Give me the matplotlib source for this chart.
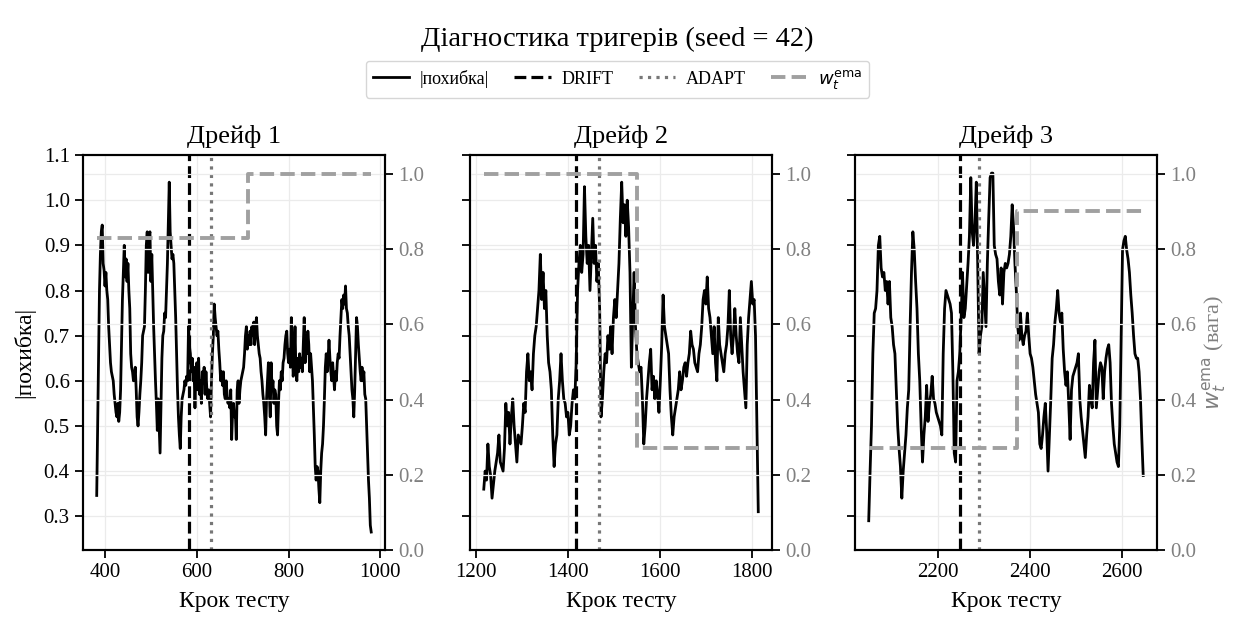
import numpy as np
import matplotlib
matplotlib.use('Agg')
import matplotlib.pyplot as plt
from matplotlib.lines import Line2D

plt.rcParams['font.family'] = ['Liberation Serif', 'DejaVu Serif']
plt.rcParams['mathtext.fontset'] = 'dejavusans'

# ---------------- data ----------------
titles = ['Дрейф 1', 'Дрейф 2', 'Дрейф 3']
starts = [382, 1216, 2049]
step_sizes = [2, 3, 3]

err1 = [0.346, 0.50, 0.66, 0.80, 0.88, 0.93, 0.945, 0.86, 0.845,
        0.81, 0.84, 0.80, 0.78, 0.72, 0.68, 0.64, 0.62, 0.61, 0.60,
        0.57, 0.55, 0.53, 0.52, 0.55, 0.51, 0.53, 0.58, 0.68, 0.78,
        0.84, 0.90, 0.83, 0.87, 0.82, 0.86, 0.80, 0.76, 0.66, 0.63,
        0.62, 0.60, 0.61, 0.63, 0.58, 0.52, 0.50, 0.53, 0.57, 0.60,
        0.64, 0.70, 0.71, 0.72, 0.80, 0.90, 0.93, 0.84, 0.92, 0.93,
        0.82, 0.88, 0.80, 0.72, 0.66, 0.60, 0.55, 0.49, 0.56, 0.50,
        0.44, 0.55, 0.65, 0.70, 0.71, 0.75, 0.74, 0.80, 0.86, 0.95,
        1.04, 0.93, 0.90, 0.87, 0.88, 0.86, 0.80, 0.74, 0.66, 0.58,
        0.52, 0.48, 0.45, 0.52, 0.56, 0.57, 0.58, 0.60, 0.59, 0.61,
        0.60, 0.72, 0.68, 0.66, 0.62, 0.65, 0.60, 0.63, 0.54, 0.62,
        0.64, 0.58, 0.65, 0.57, 0.60, 0.55, 0.62, 0.60, 0.63, 0.57,
        0.62, 0.58, 0.56, 0.58, 0.55, 0.52, 0.60, 0.66, 0.70, 0.77,
        0.74, 0.72, 0.70, 0.71, 0.67, 0.64, 0.60, 0.62, 0.59, 0.62,
        0.57, 0.56, 0.60, 0.57, 0.55, 0.56, 0.54, 0.58, 0.47, 0.53,
        0.55, 0.52, 0.53, 0.47, 0.58, 0.60, 0.55, 0.58, 0.60, 0.61,
        0.62, 0.63, 0.66, 0.70, 0.72, 0.67, 0.70, 0.68, 0.71, 0.68,
        0.72, 0.70, 0.73, 0.68, 0.72, 0.74, 0.70, 0.68, 0.66, 0.65,
        0.62, 0.60, 0.57, 0.55, 0.52, 0.48, 0.56, 0.60, 0.64, 0.57,
        0.52, 0.64, 0.58, 0.60, 0.55, 0.58, 0.57, 0.50, 0.48, 0.55,
        0.60, 0.58, 0.62, 0.60, 0.64, 0.65, 0.68, 0.70, 0.71, 0.66,
        0.64, 0.67, 0.63, 0.74, 0.68, 0.61, 0.64, 0.72, 0.62, 0.60,
        0.65, 0.62, 0.66, 0.63, 0.65, 0.62, 0.68, 0.74, 0.64, 0.70,
        0.66, 0.71, 0.68, 0.62, 0.66, 0.63, 0.60, 0.54, 0.48, 0.41,
        0.38, 0.41, 0.40, 0.36, 0.33, 0.40, 0.44, 0.46, 0.50, 0.56,
        0.63, 0.66, 0.62, 0.65, 0.69, 0.65, 0.62, 0.60, 0.64, 0.61,
        0.58, 0.62, 0.60, 0.64, 0.66, 0.65, 0.70, 0.74, 0.78, 0.76,
        0.79, 0.77, 0.81, 0.76, 0.75, 0.72, 0.70, 0.66, 0.62, 0.58,
        0.56, 0.52, 0.58, 0.66, 0.74, 0.72, 0.68, 0.65, 0.62, 0.60,
        0.63, 0.60, 0.62, 0.57, 0.56, 0.50, 0.44, 0.38, 0.34, 0.28,
        0.265]

err2 = [0.36, 0.40, 0.38, 0.46, 0.41, 0.39, 0.34, 0.37, 0.40, 0.42,
        0.44, 0.48, 0.42, 0.41, 0.40, 0.45, 0.55, 0.50, 0.53, 0.46,
        0.52, 0.56, 0.50, 0.46, 0.42, 0.48, 0.47, 0.46, 0.50, 0.55,
        0.53, 0.62, 0.66, 0.60, 0.62, 0.58, 0.66, 0.70, 0.72, 0.76,
        0.80, 0.88, 0.78, 0.84, 0.76, 0.80, 0.70, 0.64, 0.62, 0.58,
        0.48, 0.41, 0.46, 0.48, 0.56, 0.60, 0.66, 0.60, 0.56, 0.55,
        0.52, 0.53, 0.48, 0.50, 0.55, 0.58, 0.56, 0.64, 0.80, 0.86,
        0.90, 0.84, 0.88, 1.03, 0.92, 0.86, 0.90, 0.80, 0.88, 0.96,
        0.86, 0.90, 0.82, 0.86, 0.76, 0.52, 0.56, 0.62, 0.66, 0.64,
        0.70, 0.67, 0.72, 0.66, 0.74, 0.78, 0.74, 0.80, 0.86, 0.96,
        1.04, 0.95, 0.99, 0.92, 1.00, 0.94, 0.84, 0.63, 0.74, 0.84,
        0.72, 0.66, 0.64, 0.62, 0.63, 0.56, 0.46, 0.50, 0.56, 0.60,
        0.64, 0.67, 0.58, 0.61, 0.56, 0.60, 0.57, 0.53, 0.60, 0.68,
        0.79, 0.72, 0.70, 0.68, 0.66, 0.58, 0.52, 0.48, 0.52, 0.54,
        0.56, 0.58, 0.62, 0.58, 0.60, 0.63, 0.64, 0.61, 0.64, 0.66,
        0.71, 0.68, 0.67, 0.64, 0.63, 0.62, 0.66, 0.68, 0.72, 0.78,
        0.80, 0.77, 0.83, 0.76, 0.74, 0.70, 0.66, 0.72, 0.64, 0.60,
        0.74, 0.68, 0.66, 0.64, 0.62, 0.66, 0.68, 0.72, 0.80, 0.70,
        0.66, 0.70, 0.76, 0.70, 0.66, 0.64, 0.74, 0.68, 0.62, 0.58,
        0.54, 0.68, 0.74, 0.78, 0.82, 0.77, 0.78, 0.70, 0.50, 0.31]

err3 = [0.29, 0.40, 0.50, 0.66, 0.75, 0.76, 0.80, 0.90, 0.92, 0.85,
        0.83, 0.84, 0.80, 0.82, 0.77, 0.82, 0.74, 0.72, 0.68, 0.66,
        0.58, 0.50, 0.45, 0.41, 0.34, 0.40, 0.44, 0.48, 0.54, 0.58,
        0.72, 0.84, 0.93, 0.89, 0.82, 0.76, 0.66, 0.60, 0.50, 0.42,
        0.48, 0.52, 0.59, 0.51, 0.55, 0.57, 0.61, 0.56, 0.55, 0.53,
        0.52, 0.51, 0.50, 0.48, 0.66, 0.76, 0.80, 0.79, 0.78, 0.77,
        0.75, 0.62, 0.44, 0.42, 0.60, 0.62, 0.66, 0.74, 0.84, 0.74,
        0.76, 0.81, 0.86, 0.92, 1.05, 0.93, 0.90, 0.95, 1.04, 0.86,
        0.66, 0.70, 0.72, 0.84, 0.78, 0.72, 0.86, 0.96, 1.05, 1.06,
        1.06, 0.90, 0.88, 0.87, 0.82, 0.79, 0.85, 0.77, 0.84, 0.86,
        0.85, 0.86, 0.88, 0.92, 0.99, 0.94, 0.86, 0.80, 0.72, 0.69,
        0.75, 0.70, 0.68, 0.70, 0.71, 0.75, 0.70, 0.66, 0.65, 0.63,
        0.60, 0.57, 0.55, 0.53, 0.46, 0.45, 0.48, 0.52, 0.55, 0.49,
        0.40, 0.48, 0.56, 0.65, 0.68, 0.73, 0.76, 0.80, 0.75, 0.73,
        0.75, 0.67, 0.62, 0.59, 0.62, 0.55, 0.47, 0.58, 0.61, 0.62,
        0.63, 0.64, 0.66, 0.56, 0.52, 0.49, 0.46, 0.43, 0.48, 0.52,
        0.59, 0.56, 0.54, 0.64, 0.69, 0.54, 0.58, 0.62, 0.64, 0.63,
        0.56, 0.62, 0.65, 0.67, 0.68, 0.64, 0.55, 0.50, 0.46, 0.44,
        0.42, 0.41, 0.50, 0.70, 0.89, 0.91, 0.92, 0.89, 0.87, 0.84,
        0.79, 0.75, 0.70, 0.66, 0.65, 0.65, 0.62, 0.56, 0.47, 0.39]

errors = [err1, err2, err3]
drift_at = [582, 1416, 2248]
adapt_at = [631, 1466, 2289]
w_switch = [712, 1549, 2371]
w_before = [0.83, 1.00, 0.27]
w_after = [1.00, 0.27, 0.90]
x_ticks = [[400, 600, 800, 1000], [1200, 1400, 1600, 1800], [2200, 2400, 2600]]
y_ticks = [0.3, 0.4, 0.5, 0.6, 0.7, 0.8, 0.9, 1.0, 1.1]
w_ticks = [0.0, 0.2, 0.4, 0.6, 0.8, 1.0]

suptitle = 'Діагностика тригерів (seed = 42)'
xlabel = 'Крок тесту'
ylabel = '|похибка|'
ylabel_r = r'$w_t^{\mathrm{ema}}$ (вага)'
legend_labels = ['|похибка|', 'DRIFT', 'ADAPT', r'$w_t^{\mathrm{ema}}$']

# ---------------- style ----------------
ERR_C = 'black'
ADAPT_C = '#777777'
W_C = '#a0a0a0'
GRID_C = '#ebebeb'
RTICK_C = '#808080'

fig = plt.figure(figsize=(12.35, 6.19), dpi=100)
lefts = [0.0672, 0.3806, 0.6923]
bottom, width, height = 0.1115, 0.2445, 0.638

axes = []
for i in range(3):
    if i == 0:
        ax = fig.add_axes([lefts[i], bottom, width, height])
    else:
        ax = fig.add_axes([lefts[i], bottom, width, height], sharey=axes[0])
    axes.append(ax)

for i, ax in enumerate(axes):
    e = errors[i]
    xs = [starts[i] + step_sizes[i] * k for k in range(len(e))]
    ax.plot(xs, e, color=ERR_C, lw=2.0, zorder=3)
    ax.axvline(drift_at[i], color='black', ls='--', lw=2.3, zorder=4)
    ax.axvline(adapt_at[i], color=ADAPT_C, ls=':', lw=2.3, zorder=4)
    ax.set_title(titles[i], fontsize=19, pad=9)
    ax.set_xlabel(xlabel, fontsize=17, labelpad=6)
    ax.set_xticks(x_ticks[i])
    ax.grid(True, color=GRID_C, lw=0.9)
    ax.set_axisbelow(True)
    for s in ax.spines.values():
        s.set_linewidth(1.5)
        s.set_color('black')
    ax.tick_params(axis='both', which='major', labelsize=15, length=6, width=1.3,
                   direction='out', colors='black')
    ax.set_yticks(y_ticks)
    if i > 0:
        ax.tick_params(axis='y', labelleft=False)
    else:
        ax.set_ylabel(ylabel, fontsize=17, labelpad=6)

    tw = ax.twinx()
    wx = [xs[0], w_switch[i], xs[-1]]
    wy = [w_before[i], w_after[i], w_after[i]]
    tw.plot(wx, wy, drawstyle='steps-post', color=W_C, ls='--', lw=2.8, zorder=5)
    tw.set_ylim(0, 1.05)
    tw.set_yticks(w_ticks)
    tw.set_yticklabels([f'{t:.1f}' for t in w_ticks])
    tw.tick_params(axis='y', labelsize=15, length=6, width=1.3, colors=RTICK_C)
    tw.tick_params(axis='y', color='black')
    tw.grid(True, axis='y', color=GRID_C, lw=0.9)
    for s in tw.spines.values():
        s.set_linewidth(1.5)
        s.set_color('black')
    if i == 2:
        tw.set_ylabel(ylabel_r, fontsize=16, color=RTICK_C, labelpad=3)

handles = [
    Line2D([], [], color=ERR_C, lw=2.0),
    Line2D([], [], color='black', ls='--', lw=2.3),
    Line2D([], [], color=ADAPT_C, ls=':', lw=2.3),
    Line2D([], [], color=W_C, ls='--', lw=2.8),
]
fig.legend(handles, legend_labels, loc='center', bbox_to_anchor=(0.5, 0.872),
           ncol=4, fontsize=13, frameon=True, fancybox=True, edgecolor='#cccccc',
           handlelength=2.0, columnspacing=1.4, handletextpad=0.6)
fig.suptitle(suptitle, fontsize=20.5, y=0.957)

fig.savefig('out.png', dpi=100)
